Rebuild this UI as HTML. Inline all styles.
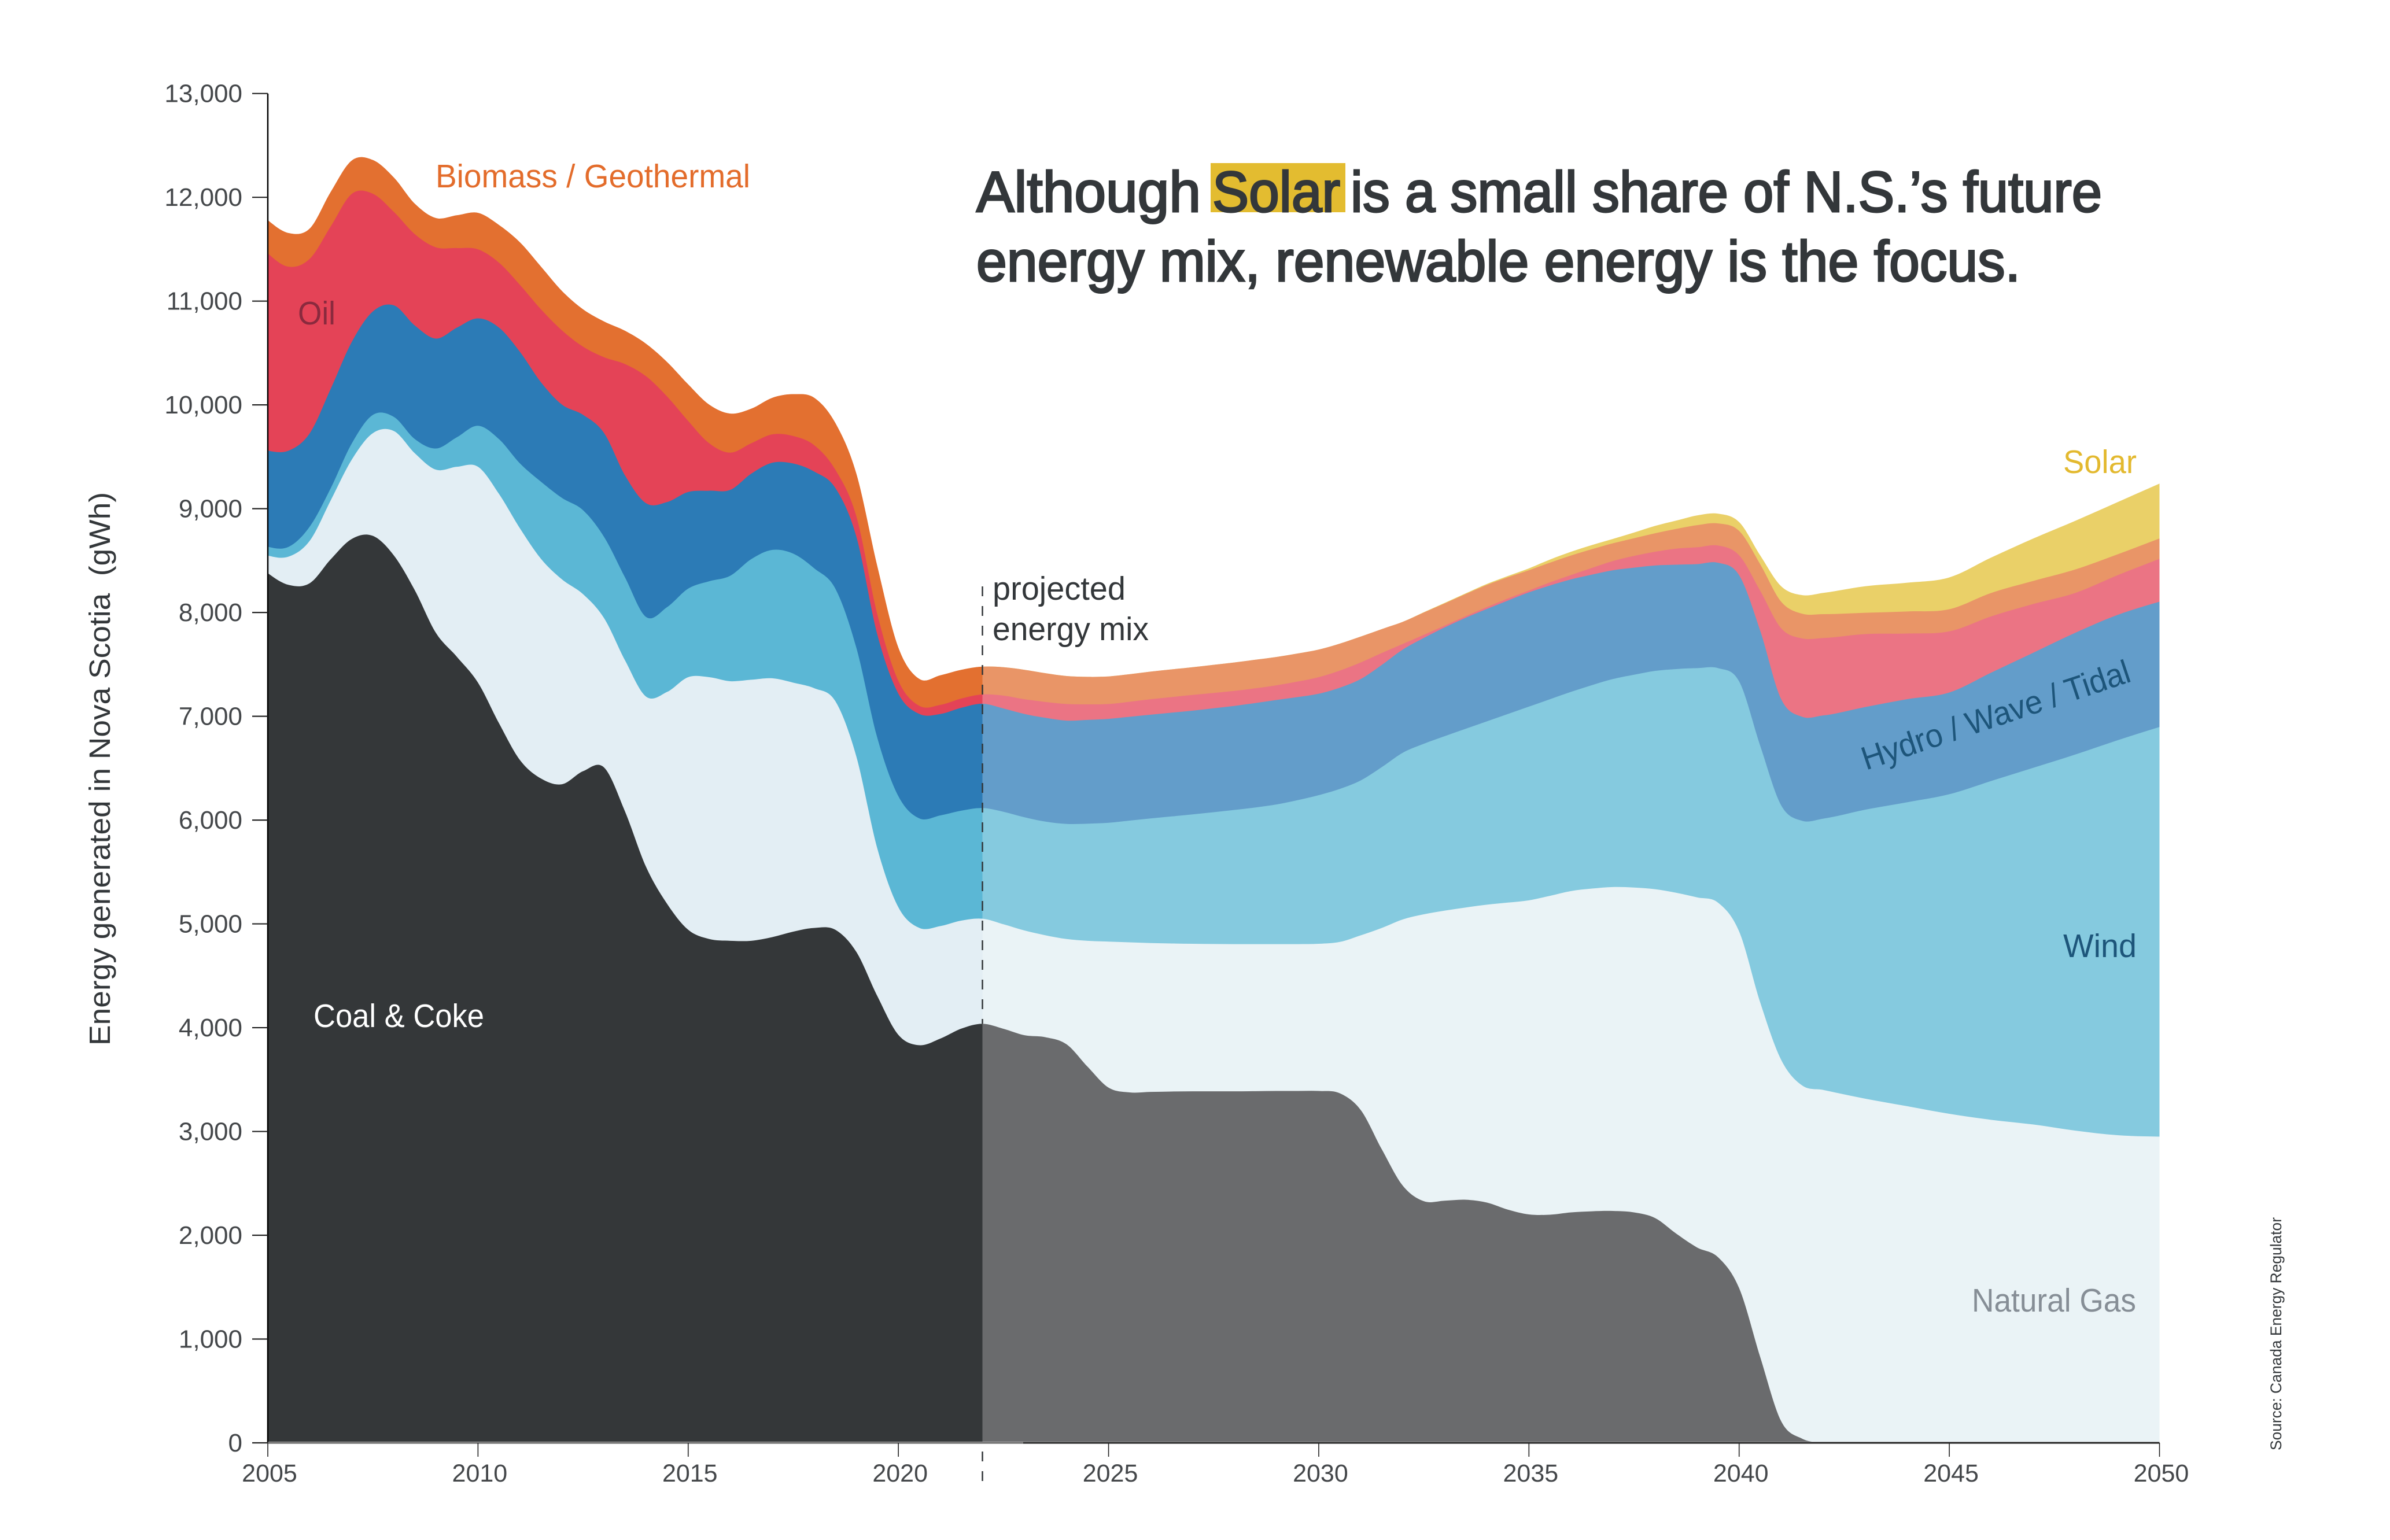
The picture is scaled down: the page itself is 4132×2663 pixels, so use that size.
<!DOCTYPE html>
<html lang="en">
<head>
<meta charset="utf-8">
<title>Nova Scotia energy mix</title>
<style>
html,body{margin:0;padding:0;background:#fff;}
svg{display:block;}
text{font-family:"Liberation Sans",sans-serif;}
</style>
</head>
<body>
<svg id="chart" xmlns="http://www.w3.org/2000/svg" width="4132" height="2663" viewBox="0 0 4132 2663">
  <rect width="4132" height="2663" fill="#ffffff"/>
  <defs id="defs"></defs>
  <g id="areas"></g>
  <g id="axes"></g>

  <text transform="translate(190,1808) rotate(-90)" font-size="51" fill="#33373a" textLength="957" lengthAdjust="spacingAndGlyphs">Energy generated in Nova Scotia&#160;&#160;(gWh)</text>

  <rect x="2093" y="282" width="233" height="85" fill="#e3bc30"/>
  <g font-size="99" fill="#33373a" stroke="#33373a" stroke-width="3">
    <text x="1688" y="366" textLength="388" lengthAdjust="spacingAndGlyphs">Although</text>
    <text x="2096" y="366" textLength="221" lengthAdjust="spacingAndGlyphs">Solar</text>
    <text x="2335" y="366" textLength="1299" lengthAdjust="spacingAndGlyphs">is a small share of N.S.’s future</text>
    <text x="1688" y="486" textLength="1805" lengthAdjust="spacingAndGlyphs">energy mix, renewable energy is the focus.</text>
  </g>

  <g font-size="57">
    <text x="753" y="324" fill="#e36c2b" textLength="544" lengthAdjust="spacingAndGlyphs">Biomass / Geothermal</text>
    <text x="515" y="561" fill="#8a2a3e" textLength="65" lengthAdjust="spacingAndGlyphs">Oil</text>
    <text x="542" y="1776" fill="#ffffff" textLength="295" lengthAdjust="spacingAndGlyphs">Coal &amp; Coke</text>
    <text x="1716" y="1037" fill="#33373a" textLength="230" lengthAdjust="spacingAndGlyphs">projected</text>
    <text x="1716" y="1107" fill="#33373a" textLength="270" lengthAdjust="spacingAndGlyphs">energy mix</text>
    <text x="3567" y="818" fill="#e3b92f" textLength="127" lengthAdjust="spacingAndGlyphs">Solar</text>
    <text x="3567" y="1655" fill="#1d557a" textLength="127" lengthAdjust="spacingAndGlyphs">Wind</text>
    <text transform="translate(3226,1332) rotate(-18.5)" fill="#1d557a" textLength="486" lengthAdjust="spacingAndGlyphs">Hydro / Wave / Tidal</text>
    <text x="3409" y="2268" fill="#868e96" textLength="284" lengthAdjust="spacingAndGlyphs">Natural Gas</text>
  </g>
  <text transform="translate(3944,2508) rotate(-90)" font-size="27" fill="#33373a" textLength="403" lengthAdjust="spacingAndGlyphs">Source: Canada Energy Regulator</text>
</svg>

<script>
// Sample years: half-year steps to 2042, then yearly
const years = [2005,2005.5,2006,2006.5,2007,2007.5,2008,2008.5,2009,2009.5,2010,2010.5,2011,2011.5,2012,2012.5,2013,2013.5,2014,2014.5,2015,2015.5,2016,2016.5,2017,2017.5,2018,2018.5,2019,2019.5,2020,2020.5,2021,2021.5,2022,
2022.5,2023,2023.5,2024,2024.5,2025,2025.5,2026,2026.5,2027,2027.5,2028,2028.5,2029,2029.5,2030,2030.5,2031,2031.5,2032,2032.5,2033,2033.5,2034,2034.5,2035,2035.5,2036,2036.5,2037,2037.5,2038,2038.5,2039,2039.5,2040,2040.5,2041,2041.5,2042,
2043,2044,2045,2046,2047,2048,2049,2050];

// Cumulative stack boundaries in gWh
const coalTop = [8379,8265,8283,8514,8709,8738,8549,8212,7803,7572,7324,6933,6577,6400,6345,6471,6506,6080,5547,5192,4943,4854,4837,4837,4872,4925,4961,4943,4730,4304,3931,3831,3895,3991,4037,
3989,3927,3908,3840,3624,3422,3376,3381,3385,3387,3387,3387,3388,3390,3390,3390,3368,3206,2828,2477,2328,2333,2342,2315,2247,2201,2198,2220,2231,2234,2220,2166,2017,1882,1788,1491,829,208,40,0,
0,0,0,0,0,0,0,0];
const gasTop = [8549,8539,8692,9083,9474,9728,9748,9533,9376,9404,9404,9142,8809,8516,8318,8176,7945,7537,7189,7235,7377,7377,7338,7352,7366,7324,7270,7146,6613,5725,5160,4961,4979,5032,5050,
4996,4936,4890,4854,4837,4829,4822,4815,4811,4808,4806,4805,4805,4805,4805,4808,4826,4890,4961,5043,5092,5128,5158,5185,5205,5227,5270,5316,5340,5355,5350,5334,5300,5255,5204,4927,4245,3690,3443,3400,
3316,3243,3170,3112,3067,3008,2964,2950];
const windTop = [8634,8634,8829,9200,9630,9904,9884,9670,9580,9689,9799,9670,9435,9259,9103,8985,8727,8336,7956,8052,8230,8301,8354,8514,8603,8567,8425,8230,7661,6791,6230,6016,6045,6091,6116,
6080,6027,5985,5963,5965,5974,5995,6016,6035,6055,6076,6098,6122,6151,6192,6240,6300,6382,6510,6649,6735,6809,6880,6951,7022,7093,7164,7235,7300,7359,7400,7437,7455,7464,7464,7336,6718,6142,5993,6014,
6100,6172,6249,6377,6504,6632,6769,6897];
const hydroTop = [9560,9560,9728,10158,10608,10901,10959,10764,10639,10745,10834,10745,10510,10217,10002,9904,9728,9318,9052,9064,9161,9173,9181,9337,9443,9435,9357,9200,8731,7786,7217,7022,7022,7082,7121,
7075,7022,6985,6958,6965,6975,6995,7015,7035,7054,7077,7100,7128,7157,7185,7217,7275,7359,7495,7643,7755,7857,7950,8034,8115,8194,8260,8319,8365,8407,8432,8453,8460,8466,8479,8359,7826,7165,6995,7008,
7089,7165,7229,7421,7613,7805,7976,8104];
const oilTop = [11460,11331,11409,11722,12034,12034,11859,11644,11518,11511,11499,11370,11155,10920,10717,10561,10459,10393,10275,10080,9845,9630,9540,9630,9716,9700,9611,9376,8927,7981,7341,7100,7110,7171,7210,
7199,7164,7138,7118,7115,7118,7140,7164,7185,7206,7225,7245,7270,7299,7335,7377,7440,7519,7610,7697,7785,7874,7965,8052,8135,8212,8290,8361,8430,8496,8545,8585,8615,8628,8645,8551,8210,7848,7750,7754,
7792,7797,7818,7963,8082,8189,8359,8517];
const biomassTop = [11780,11655,11700,12054,12355,12359,12190,11937,11800,11827,11850,11733,11565,11331,11096,10920,10803,10713,10588,10412,10197,10002,9916,9963,10068,10103,10068,9826,9337,8443,7661,7359,7395,7448,7478,
7473,7448,7415,7388,7380,7384,7405,7430,7452,7473,7496,7519,7545,7572,7605,7643,7700,7768,7840,7910,8000,8088,8178,8265,8340,8407,8480,8549,8610,8667,8715,8763,8805,8841,8858,8786,8466,8104,7988,7984,
7997,8010,8031,8189,8304,8415,8560,8713];
const solarTop = [11780,11655,11700,12054,12355,12359,12190,11937,11800,11827,11850,11733,11565,11331,11096,10920,10803,10713,10588,10412,10197,10002,9916,9963,10068,10103,10068,9826,9337,8443,7661,7359,7395,7448,7478,
7473,7448,7415,7388,7380,7384,7405,7430,7452,7473,7496,7519,7545,7572,7605,7643,7700,7768,7840,7910,8003,8093,8185,8275,8352,8425,8510,8585,8650,8709,8770,8834,8885,8935,8952,8871,8551,8253,8167,8189,
8253,8287,8338,8530,8713,8884,9063,9242];

const yTickValues = [0,1000,2000,3000,4000,5000,6000,7000,8000,9000,10000,11000,12000,13000];
const yTickLabels = ["0","1,000","2,000","3,000","4,000","5,000","6,000","7,000","8,000","9,000","10,000","11,000","12,000","13,000"];
const xTickValues = [2005,2010,2015,2020,2025,2030,2035,2040,2045,2050];
const xTickLabels = ["2005","2010","2015","2020","2025","2030","2035","2040","2045","2050"];
const projectionStart = 2022;

const SVGNS = "http://www.w3.org/2000/svg";
const X0 = 463, X1 = 3733.5, Y0 = 2495, Y1 = 161.7;
function xScale(yr){ return X0 + (yr - 2005) * (X1 - X0) / 45; }
function yScale(v){ return Y0 - v * (Y0 - Y1) / 13000; }
function make(tag, attrs){
  const el = document.createElementNS(SVGNS, tag);
  for (const k in attrs) el.setAttribute(k, attrs[k]);
  return el;
}

// Smooth cubic (non-uniform Catmull-Rom tangents) through the samples
function smoothPath(xs, ys){
  const n = xs.length, t = new Array(n);
  for (let i = 1; i < n - 1; i++){
    const h0 = xs[i] - xs[i-1], h1 = xs[i+1] - xs[i];
    const s0 = (ys[i] - ys[i-1]) / h0, s1 = (ys[i+1] - ys[i]) / h1;
    t[i] = (s0 * h1 + s1 * h0) / (h0 + h1);
  }
  t[0] = (3 * (ys[1] - ys[0]) / (xs[1] - xs[0]) - t[1]) / 2;
  t[n-1] = (3 * (ys[n-1] - ys[n-2]) / (xs[n-1] - xs[n-2]) - t[n-2]) / 2;
  let d = "M" + xs[0].toFixed(2) + "," + ys[0].toFixed(2);
  for (let i = 0; i < n - 1; i++){
    const dx = (xs[i+1] - xs[i]) / 3;
    d += "C" + (xs[i] + dx).toFixed(2) + "," + (ys[i] + dx * t[i]).toFixed(2) + " " +
         (xs[i+1] - dx).toFixed(2) + "," + (ys[i+1] - dx * t[i+1]).toFixed(2) + " " +
         xs[i+1].toFixed(2) + "," + ys[i+1].toFixed(2);
  }
  return d;
}

const defs = document.getElementById("defs");
const areas = document.getElementById("areas");
const axes = document.getElementById("axes");
const clipBottom = Y0 - 2;

const splitX = xScale(projectionStart);
const clipHist = make("clipPath", {id: "clip-history"});
clipHist.appendChild(make("rect", {x: X0, y: 0, width: splitX - X0, height: clipBottom}));
defs.appendChild(clipHist);
const clipProj = make("clipPath", {id: "clip-projection"});
clipProj.appendChild(make("rect", {x: splitX, y: 0, width: X1 - splitX, height: clipBottom}));
defs.appendChild(clipProj);

const bandNames = ["solar","biomass","oil","hydro","wind","gas","coal"];
const bandValues = [solarTop,biomassTop,oilTop,hydroTop,windTop,gasTop,coalTop];
const histColors = ["#e37030","#e37030","#e44357","#2c7bb6","#5bb7d5","#e3eef4","#343739"];
const projColors = ["#ead068","#e99567","#eb7484","#639dca","#85cadf","#eaf3f6","#6a6b6d"];

const xsPx = years.map(xScale);
function drawBand(i, clipId, colour, suffix){
  const d = smoothPath(xsPx, bandValues[i].map(yScale)) +
    "L" + X1 + "," + (Y0 + 6) + "L" + X0 + "," + (Y0 + 6) + "Z";
  const p = make("path", {d: d, fill: colour, "clip-path": "url(#" + clipId + ")"});
  
  
  areas.appendChild(p);
}
for (let i = 0; i < bandNames.length; i++){
  drawBand(i, "clip-history", histColors[i], "-historical");
  drawBand(i, "clip-projection", projColors[i], "-projected");
}

// Dashed projection marker: hidden behind the coal band
const coalAtSplit = coalTop[years.indexOf(projectionStart)];
const dashTop = make("line", {x1: splitX, x2: splitX, y1: 1014, y2: yScale(coalAtSplit), stroke: "#33373a", "stroke-width": 2.5, "stroke-dasharray": "17 17"});


axes.appendChild(dashTop);
const dashBottom = make("line", {x1: splitX, x2: splitX, y1: 2510, y2: 2561, stroke: "#33373a", "stroke-width": 2.5, "stroke-dasharray": "17 17"});


axes.appendChild(dashBottom);

// Axes
const yLine = make("line", {x1: X0, x2: X0, y1: Y1, y2: Y0, stroke: "#000", "stroke-width": 2.5});


axes.appendChild(yLine);
const xLineDark = make("line", {x1: X0, x2: 1769, y1: Y0, y2: Y0, stroke: "#666", "stroke-width": 3});


axes.appendChild(xLineDark);
const xLine = make("line", {x1: 1769, x2: X1, y1: Y0, y2: Y0, stroke: "#222", "stroke-width": 3});


axes.appendChild(xLine);

yTickValues.forEach(function(v, i){
  const py = yScale(v);
  const t = make("line", {x1: X0 - 27, x2: X0, y1: py, y2: py, stroke: "#222", "stroke-width": 2.2});
  
  
  axes.appendChild(t);
  const l = make("text", {x: 419, y: py + 15, "text-anchor": "end", "font-size": 44, fill: "#44474a"});
  
  
  l.textContent = yTickLabels[i];
  axes.appendChild(l);
});
xTickValues.forEach(function(v, i){
  const px = xScale(v);
  const t = make("line", {x1: px, x2: px, y1: Y0, y2: Y0 + 24, stroke: "#222", "stroke-width": 1.6});
  
  
  axes.appendChild(t);
  const l = make("text", {x: px + 3, y: 2562, "text-anchor": "middle", "font-size": 43, fill: "#44474a"});
  
  
  l.textContent = xTickLabels[i];
  axes.appendChild(l);
});
</script>
</body>
</html>
